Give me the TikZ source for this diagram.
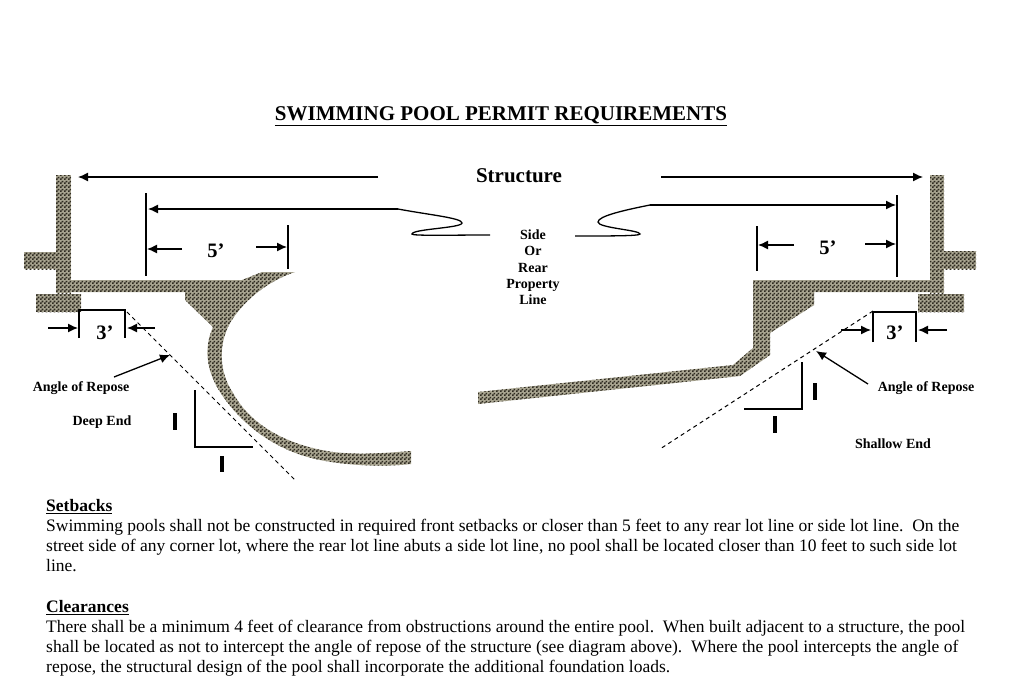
\documentclass[tikz,border=0pt]{standalone}
\usepackage{fontspec}
\setmainfont{Liberation Serif}
\usetikzlibrary{arrows.meta,patterns}

\definecolor{poolBase}{HTML}{A8A490}
\definecolor{poolDark}{HTML}{2E2A20}

\pgfdeclarepatternformonly{poolchecks}{\pgfqpoint{0pt}{0pt}}{\pgfqpoint{4pt}{4pt}}{\pgfqpoint{4pt}{4pt}}{%
  \pgfpathrectangle{\pgfqpoint{0pt}{0pt}}{\pgfqpoint{2pt}{2pt}}%
  \pgfpathrectangle{\pgfqpoint{2pt}{2pt}}{\pgfqpoint{2pt}{2pt}}%
  \pgfusepath{fill}}

\tikzset{
  concrete/.style={preaction={fill=poolBase},pattern=poolchecks,pattern color=poolDark},
  dimline/.style={line width=1.3pt,-{Latex[length=10pt,width=9pt]}},
  plainline/.style={line width=1.3pt},
  ratiotick/.style={line width=4pt},
  repose/.style={line width=1pt,dash pattern=on 4pt off 3.5pt},
  boldlabel/.style={font=\fontsize{14}{16.3}\selectfont\bfseries,inner sep=0pt,align=center},
  dimlabel/.style={font=\fontsize{20.5}{22}\selectfont\bfseries,inner sep=0pt},
  bodytext/.style={font=\fontsize{17.5}{20}\selectfont,inner sep=0pt,align=left,anchor=north west}
}

\begin{document}
\begin{tikzpicture}[x=1pt,y=-1pt]
\useasboundingbox (0,0) rectangle (1024,696);

% title
\node[inner sep=0pt,font=\fontsize{21}{24}\selectfont\bfseries] (title) at (501,116) {\underline{SWIMMING POOL PERMIT REQUIREMENTS}};
\node[inner sep=0pt,font=\fontsize{21}{24}\selectfont\bfseries] (structure) at (519,176) {Structure};
\node[boldlabel] (property) at (533,267.5) {Side\\Or\\Rear\\Property\\Line};

% left side, deep end
\fill[concrete] (56,175) rectangle (71,293);
\fill[concrete] (24,252) rectangle (56,269);
\fill[concrete] (36,294) rectangle (81,312);
\fill[concrete] (71,280) -- (242,280) -- (262,272) -- (295,272)
  .. controls (265,282) and (242,303) .. (230,323)
  .. controls (218,345) and (219,372) .. (233,393)
  .. controls (250,424) and (285,445) .. (333,452)
  .. controls (360,455) and (385,453) .. (411,451)
  -- (411,464)
  .. controls (385,467) and (350,466) .. (320,460)
  .. controls (270,450) and (235,418) .. (217,387)
  .. controls (205,365) and (205,345) .. (213,327)
  -- (185,300) -- (185,292) -- (71,292) -- cycle;

\draw[dimline] (378,177) -- (78,177);
\draw[dimline] (398,209) -- (148,209);
\draw[plainline] (398,209) .. controls (430,215) and (462,218) .. (462,223)
  .. controls (462,228) and (412,229) .. (412,234) .. controls (412,236) and (450,235) .. (490,235);
\draw[plainline] (146,193) -- (146,276);
\draw[plainline] (288,225) -- (288,269);
\draw[dimline] (182,249) -- (147,249);
\draw[dimline] (256,247) -- (287,247);
\node[dimlabel] (leftfive) at (216,251) {5’};

\draw[plainline] (79,338) -- (79,310) -- (125,310) -- (125,338);
\draw[dimline] (48,328) -- (78,328);
\draw[dimline] (155,328) -- (127,328);
\node[dimlabel] (leftthree) at (105,333) {3’};
\draw[repose] (127,312) -- (295,480);
\draw[dimline] (114,377) -- (170,355);
\node[boldlabel] (leftrepose) at (81,388) {Angle of Repose};
\node[boldlabel] (deepend) at (102,422) {Deep End};
\draw[plainline] (195,390) -- (195,447) -- (253,447);
\draw[ratiotick] (175,413) -- (175,430);
\draw[ratiotick] (222,456) -- (222,472);

% right side, shallow end
\fill[concrete] (930,175) rectangle (944,293);
\fill[concrete] (944,251) rectangle (976,269);
\fill[concrete] (918,294) rectangle (964,312);
\fill[concrete] (930,280) -- (753,280) -- (753,348) -- (733,365) -- (478,392) -- (478,404)
  -- (740,376) -- (770,355) -- (770,333) -- (814,305) -- (814,292) -- (930,292) -- cycle;

\draw[dimline] (661,177) -- (923,177);
\draw[dimline] (650,205) -- (896,205);
\draw[plainline] (650,205) .. controls (625,210) and (598,216) .. (598,222)
  .. controls (598,228) and (640,230) .. (640,234) .. controls (640,236) and (610,236) .. (575,236);
\draw[plainline] (897,195) -- (897,277);
\draw[plainline] (757,226) -- (757,271);
\draw[dimline] (794,245) -- (758,245);
\draw[dimline] (865,244) -- (896,244);
\node[dimlabel] (rightfive) at (828,248) {5’};

\draw[plainline] (873,342) -- (873,312) -- (916,312) -- (916,342);
\draw[dimline] (841,330) -- (871,330);
\draw[dimline] (947,330) -- (918,330);
\node[dimlabel] (rightthree) at (895,333) {3’};
\draw[repose] (873,311) -- (660,449);
\draw[dimline] (868,384) -- (816,351);
\node[boldlabel] (rightrepose) at (926,388) {Angle of Repose};
\node[boldlabel] (shallowend) at (893,444) {Shallow End};
\draw[plainline] (744,409) -- (802,409) -- (802,362);
\draw[ratiotick] (815,383) -- (815,400);
\draw[ratiotick] (775,416) -- (775,433);

% requirements text
\node[bodytext] (setbacks) at (46,499) {\textbf{\underline{Setbacks}}\\
Swimming pools shall not be constructed in required front setbacks or closer than 5 feet to any rear lot line or side lot line.\ \ On the\\
street side of any corner lot, where the rear lot line abuts a side lot line, no pool shall be located closer than 10 feet to such side lot\\
line.};
\node[bodytext] (clearances) at (46,600) {\textbf{\underline{Clearances}}\\
There shall be a minimum 4 feet of clearance from obstructions around the entire pool.\ \ When built adjacent to a structure, the pool\\
shall be located as not to intercept the angle of repose of the structure (see diagram above).\ \ Where the pool intercepts the angle of\\
repose, the structural design of the pool shall incorporate the additional foundation loads.};
\end{tikzpicture}
\end{document}
